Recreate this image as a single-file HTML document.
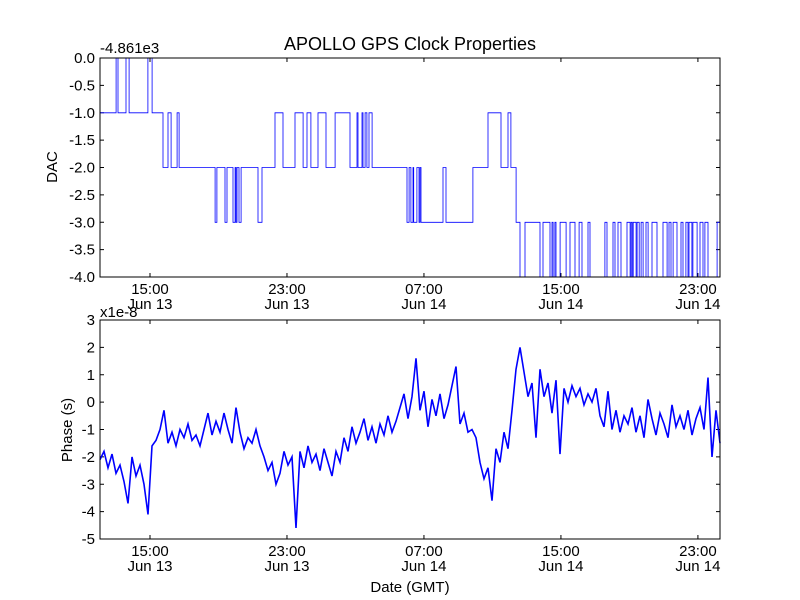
<!DOCTYPE html>
<html><head><meta charset="utf-8"><style>
html,body{margin:0;padding:0;background:#fff}
svg{display:block;font-family:"Liberation Sans","DejaVu Sans",sans-serif}
</style></head><body>
<svg id="c" width="800" height="600" viewBox="0 0 800 600">
<rect width="800" height="600" fill="#fff"/>
<text x="410" y="50" font-size="18" text-anchor="middle">APOLLO GPS Clock Properties</text>
<text x="100" y="53" font-size="15">-4.861e3</text>
<text x="100" y="317" font-size="15">x1e-8</text>
<text transform="translate(57,167) rotate(-90)" font-size="15" text-anchor="middle">DAC</text>
<text transform="translate(72,430) rotate(-90)" font-size="15" text-anchor="middle">Phase (s)</text>
<text x="410" y="592" font-size="15" text-anchor="middle">Date (GMT)</text>
<g id="g1"></g><g id="g2"></g>
</svg>
<script>
const xTickHours=[15,23,31,39,47];
const xTickTimes=["15:00","23:00","07:00","15:00","23:00"];
const xTickDates=["Jun 13","Jun 13","Jun 14","Jun 14","Jun 14"];
const dacTicks=[0,-0.5,-1,-1.5,-2,-2.5,-3,-3.5,-4];
const dacTickLabels=["0.0","-0.5","-1.0","-1.5","-2.0","-2.5","-3.0","-3.5","-4.0"];
const phaseTicks=[3,2,1,0,-1,-2,-3,-4,-5];
const phaseTickLabels=["3","2","1","0","-1","-2","-3","-4","-5"];
const dacTimes=[12.08,13.02,13.13,13.60,13.78,14.88,15.12,15.76,16.05,16.23,16.58,16.70,18.80,18.91,19.38,19.50,19.85,19.97,20.02,20.08,20.20,20.32,21.31,21.54,22.30,22.77,23.47,23.94,24.17,24.40,24.81,25.28,25.81,26.68,27.09,27.15,27.38,27.44,27.56,27.67,27.79,27.97,30.01,30.13,30.24,30.36,30.40,30.59,30.71,30.77,30.83,32.11,32.29,33.86,34.74,35.50,35.91,36.08,36.38,36.61,36.90,37.78,37.95,38.36,38.48,38.54,38.65,38.71,38.95,39.30,39.53,39.82,40.06,40.23,40.58,40.70,41.57,41.69,42.04,42.16,42.33,42.51,42.86,43.04,43.10,43.16,43.22,43.39,43.45,43.57,43.68,43.80,43.97,44.09,44.32,44.61,44.96,45.20,45.31,45.43,45.55,45.78,46.01,46.13,46.30,46.42,46.48,46.65,46.71,46.95,47.12,47.30,47.41,47.59,48.12];
const dacValues=[-1,0,-1,0,-1,0,-1,-2,-1,-2,-1,-2,-3,-2,-3,-2,-3,-2,-3,-2,-3,-2,-3,-2,-1,-2,-1,-2,-1,-2,-1,-2,-1,-2,-1,-2,-1,-2,-1,-2,-1,-2,-3,-2,-3,-2,-3,-2,-3,-2,-3,-2,-3,-2,-1,-2,-1,-2,-3,-4,-3,-4,-3,-4,-3,-4,-3,-4,-3,-4,-3,-4,-3,-4,-3,-4,-3,-4,-3,-4,-3,-4,-3,-4,-3,-4,-3,-4,-3,-4,-3,-4,-3,-4,-3,-4,-3,-4,-3,-4,-3,-4,-3,-4,-3,-4,-3,-4,-3,-4,-3,-4,-3,-4,-3];
const phaseValues=[-2.1,-1.8,-2.4,-1.9,-2.6,-2.3,-2.9,-3.7,-2.0,-2.7,-2.3,-3.0,-4.1,-1.6,-1.4,-1.0,-0.3,-1.5,-1.1,-1.6,-1.0,-1.3,-0.8,-1.4,-1.2,-1.6,-1.0,-0.4,-1.2,-0.7,-1.1,-0.4,-1.0,-1.5,-0.2,-1.1,-1.7,-1.3,-1.5,-1.0,-1.6,-2.0,-2.5,-2.2,-3.0,-2.6,-1.8,-2.3,-2.0,-4.6,-1.8,-2.4,-1.6,-2.2,-1.9,-2.5,-1.7,-2.2,-2.7,-1.8,-2.2,-1.3,-1.8,-0.9,-1.5,-1.1,-0.6,-1.4,-0.9,-1.5,-0.8,-1.2,-0.5,-1.1,-0.7,-0.2,0.3,-0.6,0.2,1.6,-0.3,0.4,-0.9,0.1,-0.5,0.3,-0.6,-0.1,0.6,1.3,-0.8,-0.4,-1.1,-1.0,-1.3,-2.2,-2.8,-2.4,-3.6,-1.7,-2.2,-1.1,-1.7,-0.3,1.2,2.0,1.1,0.2,0.7,-1.3,1.2,0.2,0.7,-0.4,0.8,-1.9,0.5,0.0,0.6,0.2,0.5,-0.1,0.3,0.0,0.5,-0.5,-0.9,0.4,-1.0,-0.3,-1.1,-0.5,-0.8,-0.2,-1.1,-0.5,-1.3,0.1,-0.6,-1.2,-0.4,-0.8,-1.3,-0.1,-0.9,-0.5,-1.0,-0.3,-1.2,-0.6,-0.2,-1.0,0.9,-2.0,-0.3,-1.5];
const T0=12.08,T1=48.29,X0=100,X1=720;
const NS="http://www.w3.org/2000/svg";
function xs(t){return X0+(t-T0)/(T1-T0)*(X1-X0);}
function mk(tag,at,parent){const e=document.createElementNS(NS,tag);for(const k in at)e.setAttribute(k,at[k]);parent.appendChild(e);return e;}
function axes(g,top,bot,ymin,ymax,ticks,labels,datesY,pref){
  const ys=v=>bot-(v-ymin)/(ymax-ymin)*(bot-top);
  for(let i=0;i<ticks.length;i++){
    const y=ys(ticks[i]);
    const l=mk('line',{x1:X0,x2:X0+4,y1:y,y2:y,stroke:'#000'},g);
    
    
    const r=mk('line',{x1:X1-4,x2:X1,y1:y,y2:y,stroke:'#000'},g);
    
    
    const t=mk('text',{x:X0-5,y:y+5,'font-size':15,'text-anchor':'end'},g);
    t.textContent=labels[i];
    
    
  }
  for(let i=0;i<xTickHours.length;i++){
    const x=xs(xTickHours[i]);
    const a=mk('line',{x1:x,x2:x,y1:bot,y2:bot-4,stroke:'#000'},g);
    
    
    const b=mk('line',{x1:x,x2:x,y1:top,y2:top+4,stroke:'#000'},g);
    
    
    const t1=mk('text',{x:x,y:datesY,'font-size':15,'text-anchor':'middle'},g);
    t1.textContent=xTickTimes[i];
    
    
    const t2=mk('text',{x:x,y:datesY+15,'font-size':15,'text-anchor':'middle'},g);
    t2.textContent=xTickDates[i];
    
    
  }
  return ys;
}
const g1=document.getElementById('g1'),g2=document.getElementById('g2');
const ys1=axes(g1,58,277,-4,0,dacTicks,dacTickLabels,294,'dac');
let d='';
for(let i=0;i<dacTimes.length;i++){
  const x=xs(dacTimes[i]).toFixed(1),y=ys1(dacValues[i]).toFixed(1);
  if(i===0)d+='M'+x+' '+y;else d+='H'+x+'V'+y;
}
d+='H'+xs(T1).toFixed(1);
const p1=mk('path',{d:d,fill:'none',stroke:'#0000ff','stroke-width':0.8},g1);


const f1=mk('rect',{x:X0,y:58,width:X1-X0,height:219,fill:'none',stroke:'#000','stroke-width':1},g1);



const ys2=axes(g2,320,539,-5,3,phaseTicks,phaseTickLabels,556,'phase');
const step=(T1-T0)/(phaseValues.length-1);
let d2='';
for(let i=0;i<phaseValues.length;i++){
  d2+=(i?'L':'M')+xs(T0+i*step).toFixed(1)+' '+ys2(phaseValues[i]).toFixed(1);
}
const p2=mk('path',{d:d2,fill:'none',stroke:'#0000ff','stroke-width':1.6},g2);


const f2=mk('rect',{x:X0,y:320,width:X1-X0,height:219,fill:'none',stroke:'#000','stroke-width':1},g2);


</script>
</body></html>
